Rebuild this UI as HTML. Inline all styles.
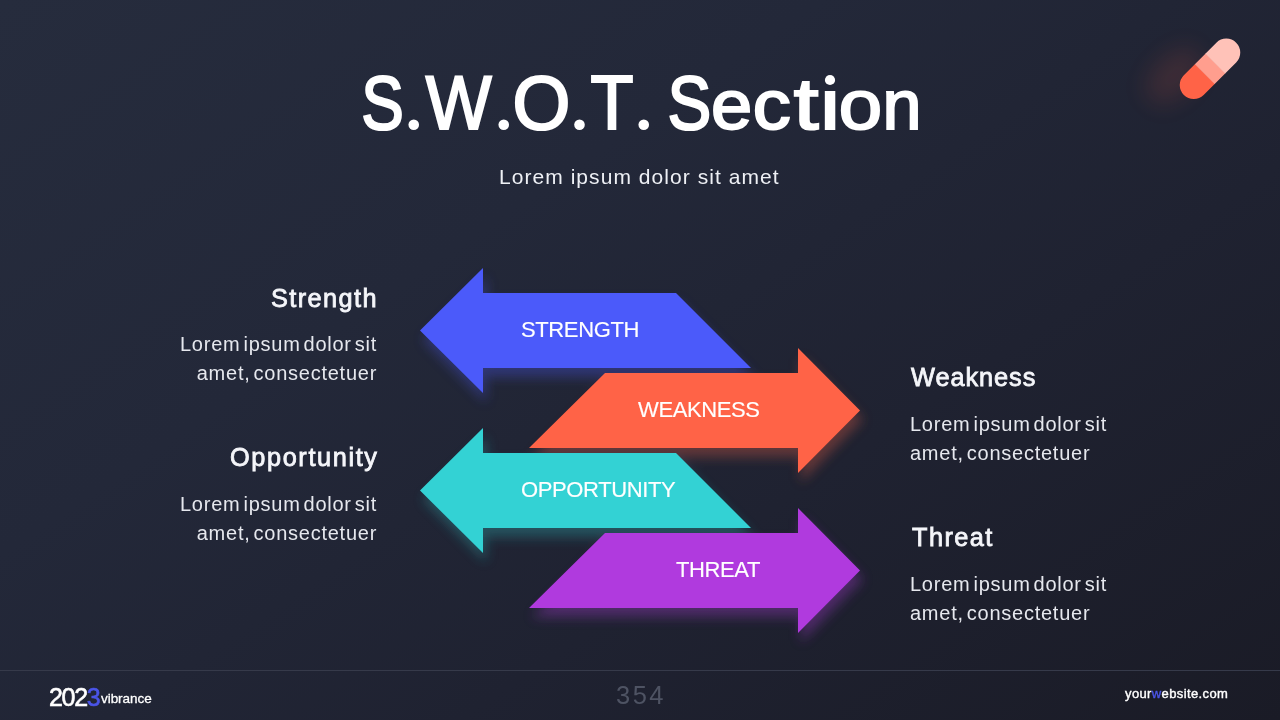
<!DOCTYPE html>
<html><head><meta charset="utf-8">
<style>
*{margin:0;padding:0;box-sizing:border-box}
html,body{width:1280px;height:720px;overflow:hidden}
body{position:relative;font-family:"Liberation Sans",sans-serif;color:#fff;-webkit-font-smoothing:antialiased;
background:linear-gradient(146deg,#262c3d 0%,#232839 35%,#1f2231 65%,#1a1b26 100%);}
.abs{position:absolute;white-space:nowrap;will-change:transform}
.sub{left:499px;top:164px;font-size:21px;line-height:26px;color:#eef0f5;letter-spacing:1.05px}
.h{font-size:25.3px;line-height:29px;color:#f5f6fa;letter-spacing:1.15px;-webkit-text-stroke:0.8px #f5f6fa}
.b{font-size:20px;line-height:29px;color:#e6e8ee;letter-spacing:0.75px;word-spacing:-3.3px}
.r{text-align:right;right:903px}
.l{left:911px}
.lab{font-size:22px;line-height:24px;color:#fff;letter-spacing:-0.38px;-webkit-text-stroke:0.15px #fff}
.foot{left:0;top:670px;width:1280px;height:1px;background:#363a4a}
</style></head><body>
<svg class="abs" style="left:0;top:0" width="1280" height="720" viewBox="0 0 1280 720">
<defs>
<filter id="sb" x="-30%" y="-50%" width="160%" height="200%"><feGaussianBlur stdDeviation="6"/></filter>
<filter id="pg" x="-100%" y="-100%" width="300%" height="300%"><feGaussianBlur stdDeviation="12"/></filter>
</defs>
<g font-family="Liberation Sans" font-size="76" fill="#fff" stroke="#fff" stroke-width="2.2">
<text transform="translate(361.20,129.3) scale(0.841,1)">S</text>
<circle cx="413.75" cy="124.7" r="5.3" fill="#fff" stroke="none"/>
<text transform="translate(425.79,129.3) scale(0.918,1)">W</text>
<circle cx="503.75" cy="124.7" r="5.3" fill="#fff" stroke="none"/>
<text transform="translate(512.58,129.3) scale(0.979,1)">O</text>
<circle cx="579.50" cy="124.7" r="5.3" fill="#fff" stroke="none"/>
<text transform="translate(590.52,129.3) scale(0.926,1)">T</text>
<circle cx="643.75" cy="124.7" r="5.3" fill="#fff" stroke="none"/>
<text transform="translate(667.52,129.3) scale(0.864,1)">S</text>
<text transform="translate(710.95,129.3) scale(0.976,0.917)">e</text>
<text transform="translate(752.87,129.3) scale(1.001,0.917)">c</text>
<text transform="translate(793.75,129.3) scale(1.175,0.945)">t</text>
<text transform="translate(817.69,129.3) scale(1.168,0.917)">ı</text>
<circle cx="830" cy="80" r="5.1" fill="#fff" stroke="none"/>
<text transform="translate(838.83,129.3) scale(1.026,0.917)">o</text>
<text transform="translate(882.44,129.3) scale(0.923,0.917)">n</text>
</g>
<g filter="url(#sb)">
<polygon fill="#4b5afa" opacity="0.32" transform="translate(3,9)" points="420,330.5 483,268 483,293 676,293 751,368 483,368 483,393"/>
<polygon fill="#ff6347" opacity="0.3" transform="translate(3,9)" points="860,410.5 798,348 798,373 605,373 529,448 798,448 798,473"/>
<polygon fill="#33d2d4" opacity="0.27" transform="translate(3,9)" points="420,490.5 483,428 483,453 676,453 751,528 483,528 483,553"/>
<polygon fill="#b03ade" opacity="0.33" transform="translate(3,9)" points="860,570.5 798,508 798,533 605,533 529,608 798,608 798,633"/>
</g>
<polygon fill="#4b5afa" points="420,330.5 483,268 483,293 676,293 751,368 483,368 483,393"/>
<polygon fill="#ff6347" points="860,410.5 798,348 798,373 605,373 529,448 798,448 798,473"/>
<polygon fill="#33d2d4" points="420,490.5 483,428 483,453 676,453 751,528 483,528 483,553"/>
<polygon fill="#b03ade" points="860,570.5 798,508 798,533 605,533 529,608 798,608 798,633"/>
<!-- pill -->
<ellipse cx="1174" cy="76" rx="34" ry="20" transform="rotate(-45 1174 76)" fill="#ff6347" opacity="0.13" filter="url(#pg)"/>
<g transform="translate(1210,68.8) rotate(-45)">
<clipPath id="pc"><rect x="-37" y="-14" width="74" height="28" rx="14" ry="14"/></clipPath>
<g clip-path="url(#pc)">
<rect x="-40" y="-15" width="33" height="30" fill="#ff6347"/>
<rect x="-7.5" y="-15" width="15.4" height="30" fill="#ff9e8e"/>
<rect x="7.4" y="-15" width="33" height="30" fill="#ffc2b8"/>
</g>
</g>
</svg>

<div class="abs sub">Lorem ipsum dolor sit amet</div>

<div class="abs lab" style="left:521px;top:318px">STRENGTH</div>
<div class="abs lab" style="right:520px;top:398px">WEAKNESS</div>
<div class="abs lab" style="left:521px;top:478px">OPPORTUNITY</div>
<div class="abs lab" style="right:520px;top:558px">THREAT</div>

<div class="abs h r" style="top:284px;letter-spacing:1.43px;right:901.5px">Strength</div>
<div class="abs b r" style="top:329.5px;text-align:right">Lorem ipsum dolor sit<br>amet, consectetuer</div>
<div class="abs h r" style="top:443px;letter-spacing:1.62px;right:901.5px">Opportunity</div>
<div class="abs b r" style="top:489.5px;text-align:right">Lorem ipsum dolor sit<br>amet, consectetuer</div>
<div class="abs h l" style="top:363px;letter-spacing:0.96px">Weakness</div>
<div class="abs b l" style="left:910px;top:409.5px">Lorem ipsum dolor sit<br>amet, consectetuer</div>
<div class="abs h l" style="top:523px;left:912px;letter-spacing:1.43px">Threat</div>
<div class="abs b l" style="left:910px;top:569.5px">Lorem ipsum dolor sit<br>amet, consectetuer</div>

<div class="abs foot"></div>
<div class="abs" style="left:49px;top:682px;font-size:25px;line-height:30px;letter-spacing:-1.3px;-webkit-text-stroke:0.6px #fff">202<span style="color:#4b55e8;-webkit-text-stroke:0.6px #4b55e8">3</span></div>
<div class="abs" style="left:101px;top:691px;font-size:13.5px;line-height:16px;letter-spacing:-0.05px;-webkit-text-stroke:0.3px #fff">vibrance</div>
<div class="abs" style="left:616px;top:679.5px;font-size:25.5px;line-height:30px;letter-spacing:2.5px;color:#4e5363">354</div>
<div class="abs" style="left:1125px;top:685.5px;font-size:13px;line-height:16px;letter-spacing:0.38px;-webkit-text-stroke:0.4px #fff">your<span style="color:#4b55e8;-webkit-text-stroke:0.4px #4b55e8">w</span>ebsite.com</div>
</body></html>
